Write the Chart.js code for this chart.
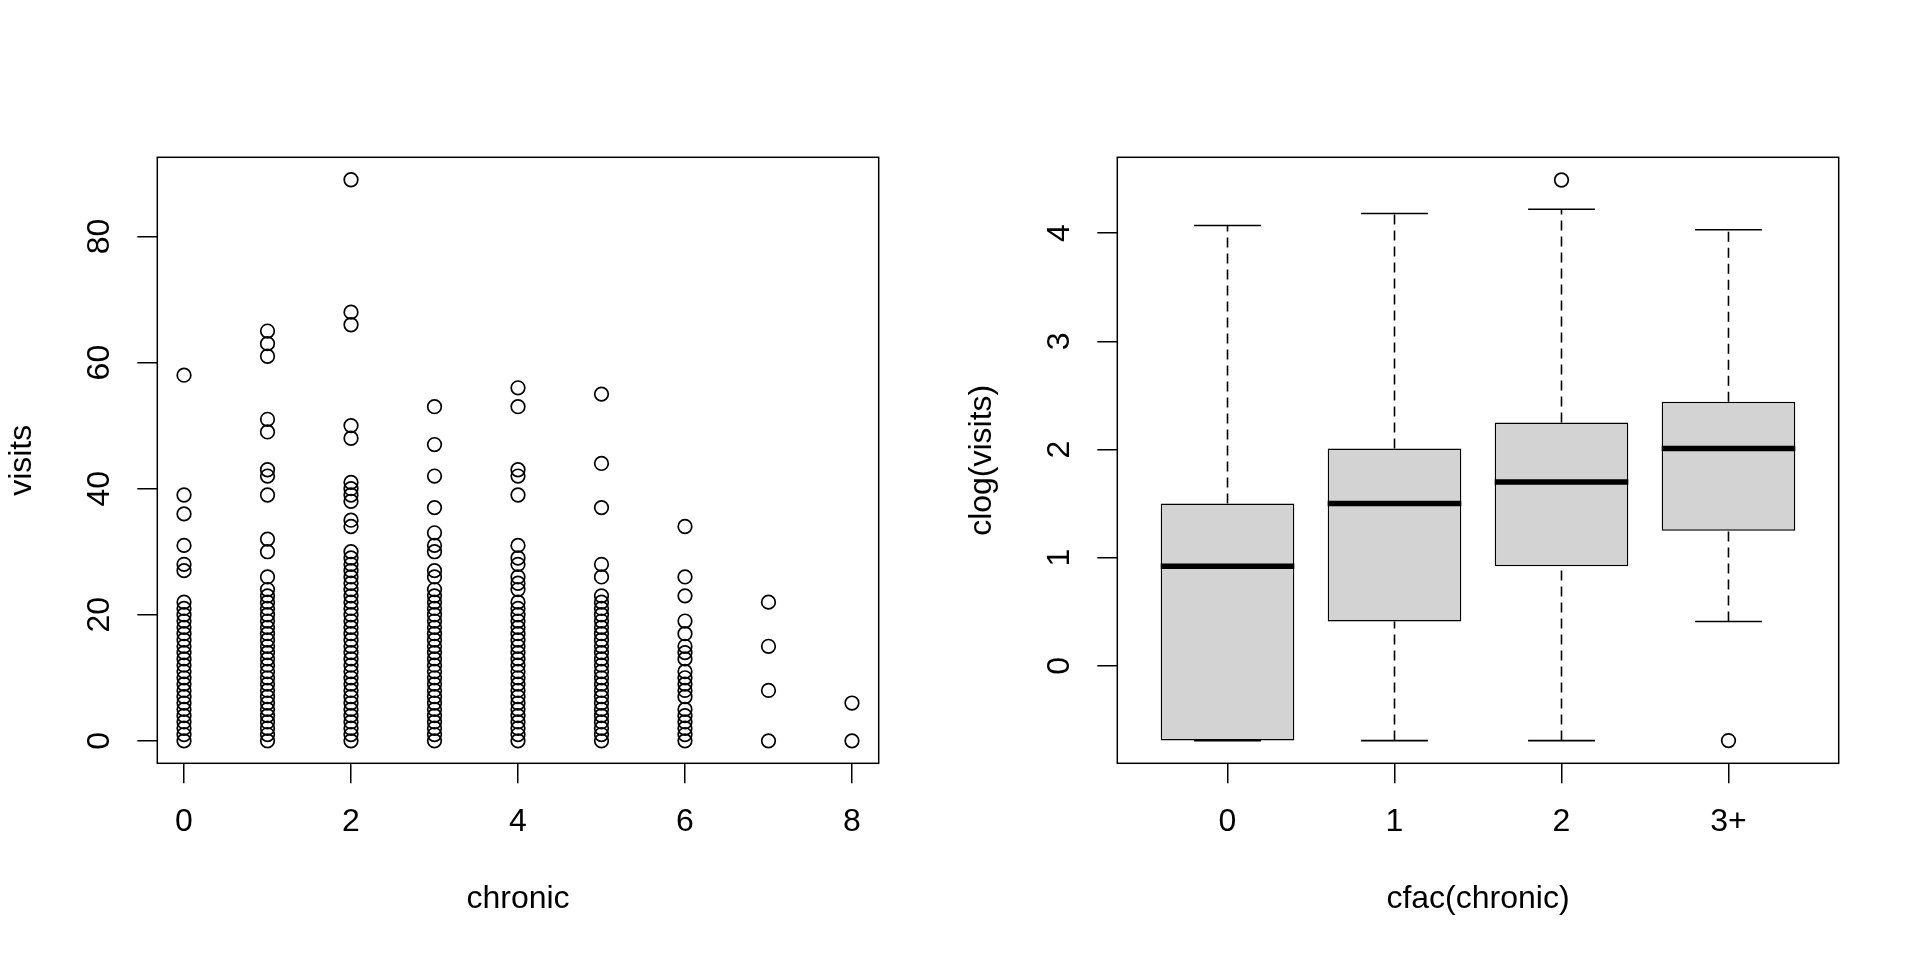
<!DOCTYPE html>
<html lang="en">
<head>
<meta charset="UTF-8">
<title>visits vs chronic</title>
<script src="https://cdn.jsdelivr.net/npm/chart.js"></script>
<style>
  html, body { margin: 0; padding: 0; background: #fff; }
  .panel { position: absolute; top: 0; width: 960px; height: 960px; }
</style>
</head>
<body>
<div class="panel" style="left:0"><canvas id="scatterChart" width="960" height="960"></canvas></div>
<div class="panel" style="left:960px"><canvas id="boxChart" width="960" height="960"></canvas></div>

<script>
// ---- left panel: visits by number of chronic conditions (distinct values seen per column)
const visitsAt0 = [0,1,2,3,4,5,6,7,8,9,10,11,12,13,14,15,16,17,18,19,20,21,22,27,28,31,36,39,58];
const visitsAt1 = [0,1,2,3,4,5,6,7,8,9,10,11,12,13,14,15,16,17,18,19,20,21,22,23,24,26,30,32,39,42,43,49,51,61,63,65];
const visitsAt2 = [0,1,2,3,4,5,6,7,8,9,10,11,12,13,14,15,16,17,18,19,20,21,22,23,24,25,26,27,28,29,30,34,35,38,39,40,41,48,50,66,68,89];
const visitsAt3 = [0,1,2,3,4,5,6,7,8,9,10,11,12,13,14,15,16,17,18,19,20,21,22,23,24,26,27,30,31,33,37,42,47,53];
const visitsAt4 = [0,1,2,3,4,5,6,7,8,9,10,11,12,13,14,15,16,17,18,19,20,21,22,24,25,26,28,29,31,39,42,43,53,56];
const visitsAt5 = [0,1,2,3,4,5,6,7,8,9,10,11,12,13,14,15,16,17,18,19,20,21,22,23,26,28,37,44,55];
const visitsAt6 = [0,1,2,3,4,5,7,8,9,10,11,13,14,15,17,19,23,26,34];
const visitsAt7 = [0,8,15,22];
const visitsAt8 = [0,6];
const chronicColumns = [visitsAt0, visitsAt1, visitsAt2, visitsAt3, visitsAt4, visitsAt5, visitsAt6, visitsAt7, visitsAt8];

const scatterXTicks = [0, 2, 4, 6, 8];
const scatterYTicks = [0, 20, 40, 60, 80];

// ---- right panel: clog(visits) by cfac(chronic)
const groups   = ['0', '1', '2', '3+'];
const q1       = [-0.69, 0.41, 0.92, 1.25];
const median   = [0.92, 1.50, 1.70, 2.01];
const q3       = [1.50, 2.01, 2.25, 2.44];
const whiskLo  = [-0.69, -0.69, -0.69, 0.41];
const whiskHi  = [4.07, 4.18, 4.22, 4.03];
const outliers = [[], [], [4.49], [-0.69]];
const boxYTicks = [0, 1, 2, 3, 4];

Chart.defaults.font.family = '"Liberation Sans", Arial, sans-serif';
Chart.defaults.font.size = 32;
Chart.defaults.color = '#000';

// plot box like R's box()
const framePlugin = {
  id: 'frame',
  afterDraw(chart) {
    const a = chart.chartArea, ctx = chart.ctx;
    ctx.save();
    ctx.strokeStyle = '#000';
    ctx.lineWidth = 1.5;
    ctx.strokeRect(a.left, a.top, a.right - a.left, a.bottom - a.top);
    ctx.restore();
  }
};

function tickGrid() {
  return { offset: false, drawOnChartArea: false, drawTicks: true, tickLength: 20, color: '#000', lineWidth: 1.5 };
}

function xAxis(min, max, ticks, labels, title) {
  return {
    type: 'linear', position: 'bottom', min: min, max: max, offset: false,
    afterBuildTicks: s => { s.ticks = ticks.map(v => ({ value: v })); },
    afterFit: s => { s.height = 196.7; },
    grid: tickGrid(),
    border: { display: false },
    ticks: { padding: 19.7, maxRotation: 0, autoSkip: false, callback: (v, i) => labels[i] },
    title: { display: true, text: title, padding: { top: 0, bottom: 42 } }
  };
}

function yAxis(min, max, ticks, title, pad) {
  return {
    type: 'linear', position: 'left', min: min, max: max, offset: false,
    afterBuildTicks: s => { s.ticks = ticks.map(v => ({ value: v })); },
    afterFit: s => { s.width = 157.3; },
    grid: tickGrid(),
    border: { display: false },
    ticks: { padding: pad, minRotation: 90, maxRotation: 90, crossAlign: 'center', autoSkip: false,
             callback: (v, i) => String(ticks[i]) },
    title: { display: true, text: title, padding: { top: 3, bottom: 0 } }
  };
}

const baseOptions = {
  responsive: false,
  animation: false,
  events: [],
  layout: { padding: { left: 0, top: 157.3, right: 81.3, bottom: 0 } },
  plugins: { legend: { display: false }, tooltip: { enabled: false } }
};

// left chart
const scatterPoints = [];
chronicColumns.forEach((vals, c) => vals.forEach(v => scatterPoints.push({ x: c, y: v })));

new Chart(document.getElementById('scatterChart'), {
  type: 'scatter',
  data: {
    datasets: [{
      data: scatterPoints,
      pointRadius: 6.8,
      borderWidth: 1.7,
      borderColor: '#000',
      backgroundColor: 'rgba(0,0,0,0)'
    }]
  },
  options: Object.assign({}, baseOptions, {
    scales: {
      x: xAxis(-0.32, 8.32, scatterXTicks, scatterXTicks.map(String), 'chronic'),
      y: yAxis(-3.56, 92.56, scatterYTicks, 'visits', 18.9)
    }
  }),
  plugins: [framePlugin]
});

// right chart
function segment(points, width, dash) {
  return {
    type: 'line',
    data: points.map(p => ({ x: p[0], y: p[1] })),
    borderColor: '#000',
    borderWidth: width,
    borderDash: dash,
    borderCapStyle: 'butt',
    pointRadius: 0,
    fill: false,
    tension: 0
  };
}

const boxDatasets = [];
groups.forEach((g, i) => {
  const x = i + 1;
  boxDatasets.push(segment([[x - 0.4, median[i]], [x + 0.4, median[i]]], 5.5, []));
  boxDatasets.push(segment([[x - 0.2, whiskHi[i]], [x + 0.2, whiskHi[i]]], 1.6, []));
  boxDatasets.push(segment([[x - 0.2, whiskLo[i]], [x + 0.2, whiskLo[i]]], 1.6, []));
  boxDatasets.push(segment([[x, q3[i]], [x, whiskHi[i]]], 1.6, [10, 6]));
  if (whiskLo[i] < q1[i]) boxDatasets.push(segment([[x, whiskLo[i]], [x, q1[i]]], 1.6, [10, 6]));
});
boxDatasets.push({
  type: 'scatter',
  data: outliers.flatMap((o, i) => o.map(v => ({ x: i + 1, y: v }))),
  pointRadius: 6.8,
  borderWidth: 1.7,
  borderColor: '#000',
  backgroundColor: 'rgba(0,0,0,0)'
});
boxDatasets.push({
  type: 'bar',
  data: groups.map((g, i) => ({ x: i + 1, y: [q1[i], q3[i]] })),
  backgroundColor: '#D3D3D3',
  borderColor: '#000',
  borderWidth: 1.5,
  borderSkipped: false,
  barPercentage: 1,
  categoryPercentage: 0.8
});

new Chart(document.getElementById('boxChart'), {
  type: 'scatter',
  data: { datasets: boxDatasets },
  options: Object.assign({}, baseOptions, {
    scales: {
      x: xAxis(0.34, 4.66, [1, 2, 3, 4], groups, 'cfac(chronic)'),
      y: yAxis(-0.90, 4.70, boxYTicks, 'clog(visits)', 27.8)
    }
  }),
  plugins: [framePlugin]
});
</script>
</body>
</html>
